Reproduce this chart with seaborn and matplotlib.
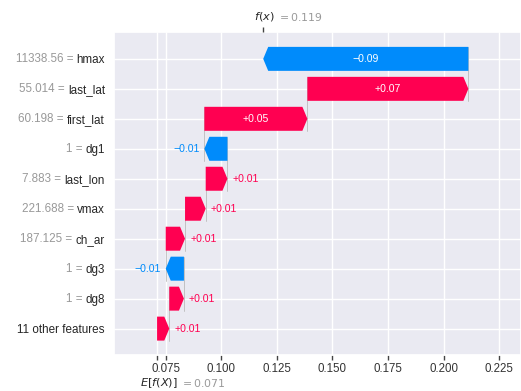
import matplotlib
matplotlib.use("Agg")
import matplotlib.pyplot as plt
import seaborn as sns
import numpy as np

# Waterfall of feature contributions, listed top to bottom
features = ["hmax", "last_lat", "first_lat", "dg1", "last_lon", "vmax",
            "ch_ar", "dg3", "dg8", "11 other features"]
feature_values = ["11338.56", "55.014", "60.198", "1", "7.883", "221.688",
                  "187.125", "1", "1", ""]
contributions = [-0.0924, 0.0725, 0.0464, -0.0104, 0.0098, 0.0093,
                 0.0087, -0.0082, 0.0066, 0.0055]
base_value = 0.071
x_ticks = [0.075, 0.100, 0.125, 0.150, 0.175, 0.200, 0.225]
x_range = (0.0516, 0.2349)

POS = "#ff0051"
NEG = "#008bfb"
GREY = "#999999"
DARK = "#262626"

sns.set_theme(style="darkgrid")
plt.rcParams["font.family"] = ["Liberation Sans", "DejaVu Sans"]
plt.rcParams["mathtext.fontset"] = "dejavusans"

DPI = 100
fig = plt.figure(figsize=(5.21, 3.91), dpi=DPI)
ax = fig.add_axes([0.2188, 0.0921, 0.7812, 0.8248])
n = len(features)
ax.set_xlim(*x_range)
ax.set_ylim(n - 1 + 0.88, -0.88)

def fmt(v):
    return ("%+0.2f" % v).replace("-", "\u2212")

# running totals, accumulated from the bottom row upward
starts = np.zeros(n)
ends = np.zeros(n)
pos = base_value
for i in reversed(range(n)):
    starts[i] = pos
    pos += contributions[i]
    ends[i] = pos
fx = pos

fig.canvas.draw()
renderer = fig.canvas.get_renderer()
ax_px = ax.get_window_extent().width
px_per_unit = ax_px / (x_range[1] - x_range[0])
head_len = 5.0 / px_per_unit
gap = 5.0 / px_per_unit

for i in range(n):
    c = contributions[i]
    col = POS if c > 0 else NEG
    hl = min(head_len, abs(c))
    ax.arrow(starts[i], i, c, 0, width=0.8, head_width=0.8, head_length=hl,
             length_includes_head=True, fc=col, ec=col, lw=0, zorder=3)
    # connector to the next row up
    if i > 0:
        ax.plot([ends[i], ends[i]], [i + 0.4, i - 1 - 0.4], color="#bbbbbb",
                lw=0.6, zorder=1)
    t = ax.text(starts[i] + c / 2, i, fmt(c), ha="center", va="center",
                color="white", fontsize=7.6, zorder=4)
    bb = t.get_window_extent(renderer=renderer)
    if bb.width + 6 > abs(c) * px_per_unit:
        t.remove()
        if c > 0:
            ax.text(ends[i] + gap, i, fmt(c), ha="left", va="center",
                    color=POS, fontsize=7.6, zorder=4)
        else:
            ax.text(ends[i] - gap, i, fmt(c), ha="right", va="center",
                    color=NEG, fontsize=7.6, zorder=4)

# y labels: feature names as tick labels, their values in grey to the left
YPAD = 6.5
ypos = np.arange(n)
ax.set_yticks(ypos)
ax.set_yticklabels(features, fontsize=8.4, color=DARK)
ax.tick_params(axis="y", left=False, length=0, pad=YPAD)

# x ticks, plus the expected value tick
ax.set_xticks(x_ticks + [base_value])
ax.set_xticklabels(["%0.3f" % v for v in x_ticks] + [""], fontsize=8.3)
ax.tick_params(axis="x", bottom=True, length=3.5, width=1.0, color="#444444",
               pad=2.5, labelcolor="#333333")

fig.canvas.draw()
for i, lab in enumerate(ax.yaxis.get_majorticklabels()):
    if not feature_values[i]:
        continue
    w_pt = lab.get_window_extent(renderer=renderer).width * 72.0 / DPI
    ax.annotate(f"{feature_values[i]} =", xy=(0, i),
                xycoords=("axes fraction", "data"),
                xytext=(-(YPAD + w_pt + 2.4), 0), textcoords="offset points",
                ha="right", va="center", fontsize=8.4, color=GREY)

# f(x) tick along the top edge
ax_top = ax.twiny()
ax_top.set_xlim(*x_range)
ax_top.set_xticks([fx])
ax_top.set_xticklabels([""])
ax_top.grid(False)
ax_top.tick_params(axis="x", top=True, length=3.5, width=1.0, color="#444444")
for s in ax_top.spines.values():
    s.set_visible(False)

ax.annotate("$f(x)$", xy=(fx, 1), xycoords=("data", "axes fraction"),
            xytext=(0.5, 11.5), textcoords="offset points", ha="center",
            va="center", fontsize=8.2, color=DARK)
ax.annotate("$= %0.3f$" % fx, xy=(fx, 1), xycoords=("data", "axes fraction"),
            xytext=(10, 11.5), textcoords="offset points", ha="left",
            va="center", fontsize=7.8, color=GREY)
ax.annotate("$E[f(X)]$", xy=(base_value, 0), xycoords=("data", "axes fraction"),
            xytext=(1.5, -20), textcoords="offset points", ha="center",
            va="center", fontsize=8.2, color=DARK)
ax.annotate("$= %0.3f$" % base_value, xy=(base_value, 0),
            xycoords=("data", "axes fraction"), xytext=(16.5, -20),
            textcoords="offset points", ha="left", va="center", fontsize=7.8,
            color=GREY)

fig.savefig("out.png", dpi=DPI)
